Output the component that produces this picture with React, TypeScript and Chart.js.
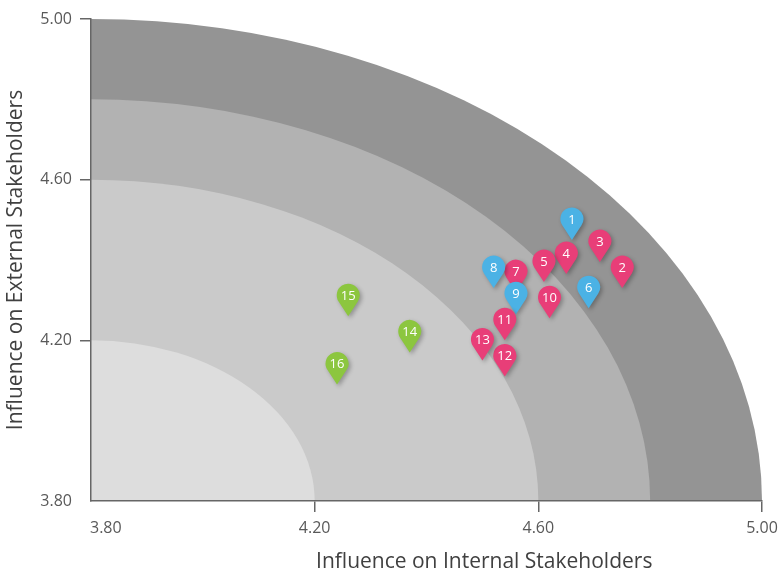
import React, { useEffect, useRef } from "react";
import { Chart, registerables } from "chart.js";

Chart.register(...registerables);

// ---- data ----
const pointLabels = ["1", "2", "3", "4", "5", "6", "7", "8", "9", "10", "11", "12", "13", "14", "15", "16"];
const internalInfluence = [4.66, 4.75, 4.71, 4.65, 4.61, 4.69, 4.56, 4.52, 4.56, 4.62, 4.54, 4.54, 4.5, 4.37, 4.26, 4.24];
const externalInfluence = [4.45, 4.33, 4.395, 4.365, 4.345, 4.28, 4.32, 4.33, 4.265, 4.255, 4.2, 4.11, 4.15, 4.17, 4.26, 4.09];
const pointGroups = ["blue", "pink", "pink", "pink", "pink", "blue", "pink", "blue", "blue", "pink", "pink", "pink", "pink", "green", "green", "green"];
const groupColors: Record<string, string> = { blue: "#4bb2e5", pink: "#e83e78", green: "#8cc63f" };

const axisTicks = [3.8, 4.2, 4.6, 5.0];
const axisMin = 3.8;
const axisMax = 5.0;
const ringRadii = [1.2, 1.0, 0.8, 0.4];
const ringColors = ["#949494", "#b2b2b2", "#cacaca", "#dddddd"];

const xTitle = "Influence on Internal Stakeholders";
const yTitle = "Influence on External Stakeholders";

const FONT = "'Open Sans', 'Noto Sans', sans-serif";
const TICK_COLOR = "#595959";

function drawPin(ctx: CanvasRenderingContext2D, x: number, y: number, color: string, label: string) {
  const r = 11.5;
  const d = 21;
  const cx = x;
  const cy = y - d;
  const phi = Math.acos(r / d);
  ctx.save();
  ctx.shadowColor = "rgba(0,0,0,0.28)";
  ctx.shadowBlur = 4;
  ctx.shadowOffsetX = 2;
  ctx.shadowOffsetY = 2;
  ctx.beginPath();
  ctx.moveTo(x, y);
  ctx.arc(cx, cy, r, Math.PI / 2 + phi, Math.PI / 2 - phi + Math.PI * 2, false);
  ctx.closePath();
  ctx.fillStyle = color;
  ctx.fill();
  ctx.restore();
  ctx.save();
  ctx.fillStyle = "#ffffff";
  ctx.font = `13px ${FONT}`;
  ctx.textAlign = "center";
  ctx.textBaseline = "middle";
  ctx.fillText(label, cx, cy + 1);
  ctx.restore();
}

const ringsPlugin = {
  id: "rings",
  beforeDraw(chart: any) {
    const { ctx, scales } = chart;
    const xs = scales.x;
    const ys = scales.y;
    const cx = xs.getPixelForValue(axisMin);
    const cy = ys.getPixelForValue(axisMin);
    ctx.save();
    ringRadii.forEach((rad, i) => {
      const rx = xs.getPixelForValue(axisMin + rad) - cx;
      const ry = cy - ys.getPixelForValue(axisMin + rad);
      ctx.beginPath();
      ctx.moveTo(cx, cy);
      ctx.ellipse(cx, cy, rx, ry, 0, -Math.PI / 2, 0, false);
      ctx.closePath();
      ctx.fillStyle = ringColors[i];
      ctx.fill();
    });
    ctx.restore();
  },
};

const pinsPlugin = {
  id: "pins",
  afterDatasetsDraw(chart: any) {
    const meta = chart.getDatasetMeta(0);
    const ctx = chart.ctx;
    meta.data.forEach((el: any, i: number) => {
      drawPin(ctx, el.x, el.y, groupColors[pointGroups[i]], pointLabels[i]);
    });
  },
};

const extraTextPlugin = {
  id: "extraText",
  afterDraw(chart: any) {
    const { ctx, chartArea, scales } = chart;
    ctx.save();
    // x-axis title (offset to the right like the reference)
    ctx.font = `21px ${FONT}`;
    ctx.fillStyle = "#404040";
    ctx.textAlign = "center";
    ctx.textBaseline = "alphabetic";
    ctx.fillText(xTitle, chartArea.left + (chartArea.right - chartArea.left) * 0.586, chartArea.bottom + 67);
    // first x tick label, aligned to start at the axis
    ctx.font = `16px ${FONT}`;
    ctx.fillStyle = TICK_COLOR;
    ctx.textAlign = "left";
    ctx.textBaseline = "alphabetic";
    ctx.fillText(Number(axisTicks[0]).toFixed(2), scales.x.getPixelForValue(axisTicks[0]) - 1, chartArea.bottom + 32);
    ctx.restore();
  },
};

export default function App() {
  const ref = useRef<HTMLCanvasElement | null>(null);
  useEffect(() => {
    if (!ref.current) return;
    const data = internalInfluence.map((v, i) => ({ x: v, y: externalInfluence[i] }));
    const tickColor = (c: any) => (c.tick && Math.abs(c.tick.value - axisMin) < 1e-9 ? "rgba(0,0,0,0)" : "#666666");
    const chart = new Chart(ref.current, {
      type: "scatter",
      data: {
        datasets: [
          {
            label: "Stakeholders",
            data,
            pointRadius: 0,
            pointHoverRadius: 0,
            pointBackgroundColor: pointGroups.map((g) => groupColors[g]),
          },
        ],
      },
      options: {
        animation: false,
        responsive: true,
        maintainAspectRatio: false,
        layout: { padding: { left: 0, top: 19, right: 17, bottom: 0 } },
        plugins: { legend: { display: false }, tooltip: { enabled: false } },
        scales: {
          x: {
            type: "linear",
            min: axisMin,
            max: axisMax,
            afterBuildTicks: (s: any) => {
              s.ticks = axisTicks.map((v) => ({ value: v }));
            },
            afterFit: (s: any) => {
              s.height = 70;
              s.paddingLeft = 0;
              s.paddingRight = 0;
            },
            grid: { drawOnChartArea: false, drawTicks: true, tickLength: 11, color: tickColor, lineWidth: 1.5 },
            border: { display: true, color: "#666666", width: 1.5 },
            ticks: {
              padding: 7,
              color: TICK_COLOR,
              font: { family: FONT, size: 16 },
              callback: (v: any) => (Math.abs(Number(v) - axisTicks[0]) < 1e-9 ? "" : Number(v).toFixed(2)),
            },
          },
          y: {
            type: "linear",
            min: axisMin,
            max: axisMax,
            afterBuildTicks: (s: any) => {
              s.ticks = axisTicks.map((v) => ({ value: v }));
            },
            afterFit: (s: any) => {
              s.width = 91;
              s.paddingTop = 0;
              s.paddingBottom = 0;
            },
            grid: { drawOnChartArea: false, drawTicks: true, tickLength: 11, color: tickColor, lineWidth: 1.5 },
            border: { display: true, color: "#666666", width: 1.5 },
            ticks: {
              padding: 8,
              color: TICK_COLOR,
              font: { family: FONT, size: 16 },
              callback: (v: any) => Number(v).toFixed(2),
            },
            title: {
              display: true,
              text: yTitle,
              color: "#404040",
              font: { family: FONT, size: 21 },
              padding: { top: 3, bottom: 0 },
            },
          },
        },
      },
      plugins: [ringsPlugin, pinsPlugin, extraTextPlugin],
    });
    return () => chart.destroy();
  }, []);
  return (
    <div style={{ position: "absolute", left: 0, top: 0, width: 779, height: 571 }}>
      <canvas ref={ref} />
    </div>
  );
}
